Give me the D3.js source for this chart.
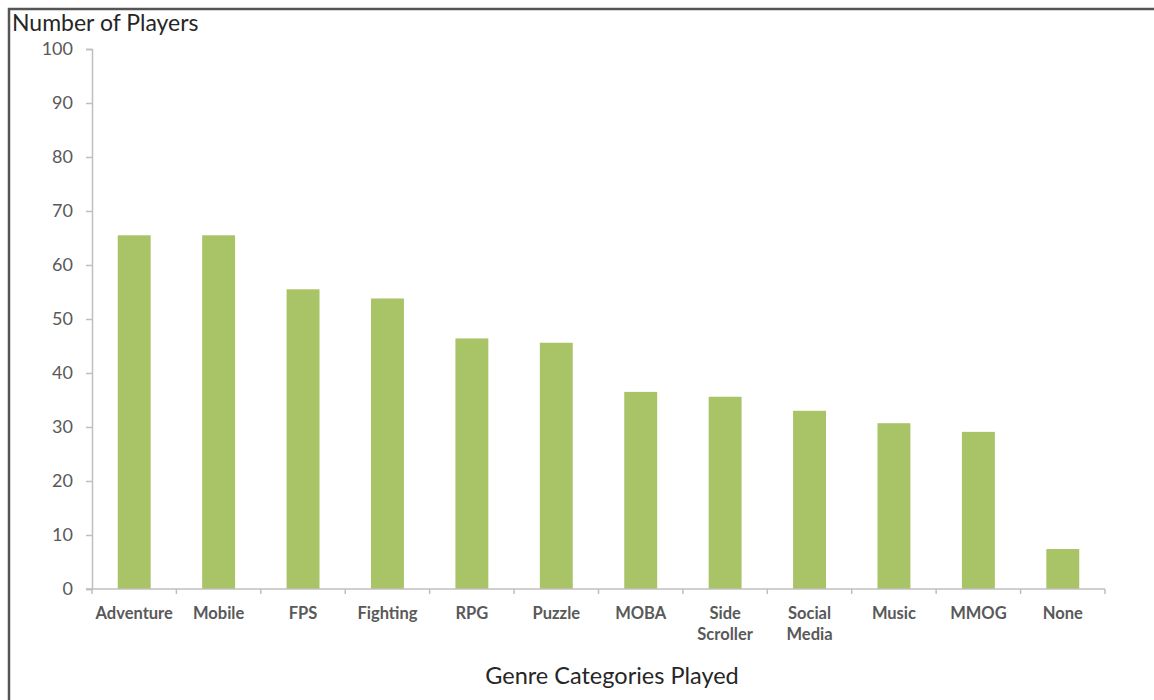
<!DOCTYPE html>
<html><head><meta charset="utf-8">
<script src="https://cdn.jsdelivr.net/npm/d3@7"></script>
<style>body{margin:0;background:#fff}svg{display:block}</style>
</head><body><svg id="c" width="1154" height="700"></svg>
<script>
const categories = [["Adventure"],["Mobile"],["FPS"],["Fighting"],["RPG"],["Puzzle"],["MOBA"],["Side","Scroller"],["Social","Media"],["Music"],["MMOG"],["None"]];
const values = [65.5, 65.5, 55.5, 53.8, 46.4, 45.6, 36.5, 35.6, 33.0, 30.7, 29.1, 7.4];
const yTicks = [0,10,20,30,40,50,60,70,80,90,100];
const yTitle = "Number of Players";
const xTitle = "Genre Categories Played";

(function(){
const svg = d3.select("#c");
const font = "Lato, 'Open Sans', sans-serif";
svg.append("path").attr("d","M9,700 V9 H1154").attr("fill","none").attr("stroke","#555").attr("stroke-width",2.5);

const pL=92, pR=1105, pT=49, pB=589;
const names = categories.map(d=>d.join(" "));
const x = d3.scaleBand().domain(names).range([pL,pR]).paddingInner(0.61).paddingOuter(0.305);
const xb = d3.scaleBand().domain(names).range([pL,pR]);
const y = d3.scaleLinear().domain([0,100]).range([pB,pT]);

svg.selectAll("rect.bar").data(values).join("rect")
  .attr("x",(d,i)=>x(names[i])).attr("width",x.bandwidth())
  .attr("y",d=>y(d)).attr("height",d=>y(0)-y(d)).attr("fill","#a8c466");

const ya = svg.append("g").attr("transform",`translate(${pL},0)`)
  .call(d3.axisLeft(y).tickValues(yTicks).tickSize(6).tickPadding(13));
ya.select(".domain").attr("stroke","#bfbfbf").attr("stroke-width",1.5);
ya.selectAll(".tick line").attr("stroke","#bfbfbf").attr("stroke-width",1.5);
ya.selectAll(".tick text").attr("fill","#595959").attr("font-family",font).attr("font-size",18);

svg.append("line").attr("x1",pL-6).attr("x2",pR).attr("y1",pB).attr("y2",pB).attr("stroke","#bfbfbf").attr("stroke-width",1.5);
const bounds = names.map(n=>xb(n)).concat([pR]);
svg.selectAll("line.xt").data(bounds).join("line")
  .attr("x1",d=>d).attr("x2",d=>d).attr("y1",pB).attr("y2",pB+5)
  .attr("stroke","#bfbfbf").attr("stroke-width",1.5);

const lab = svg.selectAll("text.cat").data(categories).join("text")
  .attr("x",(d,i)=>xb(names[i])+xb.bandwidth()/2).attr("y",619)
  .attr("text-anchor","middle").attr("font-family",font).attr("font-weight","bold")
  .attr("font-size",16.5).attr("fill","#595959");
lab.each(function(d){
  const t=d3.select(this);
  d.forEach((s,j)=>t.append("tspan").attr("x",t.attr("x")).attr("dy",j?21:0).text(s));
});

svg.append("text").attr("x",12).attr("y",31).attr("font-family",font).attr("font-size",23)
  .attr("fill","#262626").text(yTitle);
svg.append("text").attr("x",612).attr("y",684).attr("text-anchor","middle").attr("font-family",font)
  .attr("font-size",23.5).attr("fill","#262626").text(xTitle);
})();
</script></body></html>
